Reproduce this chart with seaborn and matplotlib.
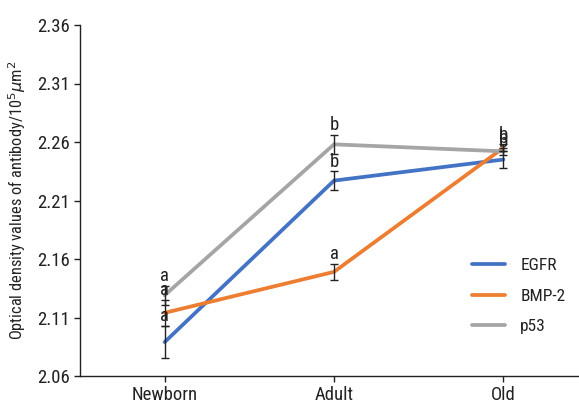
import matplotlib
matplotlib.use("Agg")
import matplotlib.pyplot as plt
import seaborn as sns
import pandas as pd
import numpy as np

stages = ["Newborn", "Adult", "Old"]
markers = ["EGFR", "BMP-2", "p53"]
egfr = [2.089, 2.227, 2.245]
bmp2 = [2.114, 2.149, 2.255]
p53 = [2.129, 2.258, 2.252]
egfr_err = [0.014, 0.008, 0.007]
bmp2_err = [0.011, 0.007, 0.003]
p53_err = [0.008, 0.008, 0.003]
egfr_sig = ["a", "b", "b"]
bmp2_sig = ["a", "a", "b"]
p53_sig = ["a", "b", "b"]
yticks = [2.06, 2.11, 2.16, 2.21, 2.26, 2.31, 2.36]

colors = {"EGFR": "#4472C4", "BMP-2": "#ED7D31", "p53": "#A5A5A5"}

sns.set_style("ticks")
fams = ["Liberation Sans Narrow", "Roboto Condensed", "DejaVu Sans"]
plt.rcParams["font.family"] = fams

values = {"EGFR": egfr, "BMP-2": bmp2, "p53": p53}
errors = {"EGFR": egfr_err, "BMP-2": bmp2_err, "p53": p53_err}
sigs = {"EGFR": egfr_sig, "BMP-2": bmp2_sig, "p53": p53_sig}

df = pd.DataFrame(
    [{"stage": s, "pos": i, "marker": m, "value": values[m][i]}
     for m in markers for i, s in enumerate(stages)]
)

fig = plt.figure(figsize=(5.79, 4.05), dpi=100)
ax = fig.add_axes([80 / 579, 1 - 376 / 405, 508 / 579, (376 - 25) / 405])

sns.lineplot(data=df, x="pos", y="value", hue="marker", hue_order=markers,
             palette=colors, linewidth=2.7, ax=ax, sort=False, legend=True)

for m in markers:
    ax.errorbar(range(len(stages)), values[m], yerr=errors[m], fmt="none",
                ecolor="#222222", elinewidth=1.0, capsize=3, capthick=1.0, zorder=3)
    for i in range(len(stages)):
        ax.annotate(sigs[m][i], (i, values[m][i] + errors[m][i]),
                    xytext=(0, 0.5), textcoords="offset points",
                    ha="center", va="bottom", fontsize=13.5, color="#222222",
                    family=fams)

ax.set_xlim(-0.5, 2.5)
ax.set_ylim(2.06, 2.36)
ax.set_xticks(range(len(stages)))
ax.set_xticklabels(stages)
ax.set_yticks(yticks)
ax.set_yticklabels([f"{t:.2f}" for t in yticks])
ax.tick_params(axis="both", labelsize=13.5, length=4, width=1, color="#222222",
               labelcolor="#222222")
ax.set_xlabel("")
ax.set_ylabel(r"Optical density values of antibody/10$^5$$\mu$m$^2$",
              fontsize=11.8, color="#222222", labelpad=6)
for s in ["left", "bottom"]:
    ax.spines[s].set_linewidth(1.0)
    ax.spines[s].set_color("#222222")
sns.despine(ax=ax)

leg = ax.legend(frameon=False, loc="upper left", bbox_to_anchor=(0.74, 0.38),
                fontsize=12.5, handlelength=1.95, handletextpad=0.85,
                labelspacing=0.88)
for t in leg.get_texts():
    t.set_color("#222222")

fig.savefig("out.png", dpi=100)
